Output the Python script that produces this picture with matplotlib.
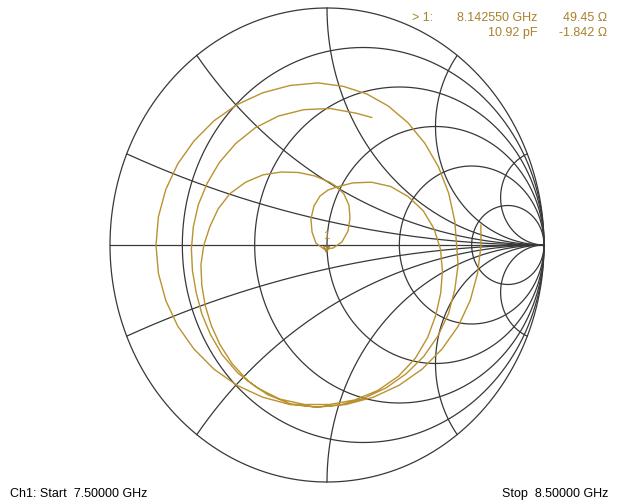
import numpy as np
import matplotlib.pyplot as plt

plt.rcParams['font.family'] = ['Liberation Sans', 'DejaVu Sans']

# Smith chart grid values (normalised)
r_circles = [0.2, 0.5, 1, 2, 5]
x_arcs = [0.2, 0.5, 1, 2, 5]

# S11 trace as reflection coefficient, 7.5 GHz -> 8.5 GHz, split by turn
turn1_re = [0.709, 0.710, 0.694, 0.660, 0.605, 0.530, 0.438, 0.332, 0.214, 0.088,
            -0.042, -0.171, -0.297, -0.415, -0.521, -0.613, -0.688, -0.743, -0.777, -0.788,
            -0.777, -0.743, -0.688, -0.613, -0.521, -0.415, -0.297, -0.171, -0.042,
            0.077, 0.184, 0.283, 0.374, 0.451, 0.514, 0.561, 0.589, 0.599]
turn1_im = [0.084, 0.000, -0.119, -0.234, -0.342, -0.439, -0.524, -0.592, -0.642, -0.673,
            -0.684, -0.673, -0.642, -0.592, -0.524, -0.439, -0.342, -0.234, -0.119, 0.000,
            0.119, 0.234, 0.342, 0.439, 0.524, 0.592, 0.642, 0.673, 0.684,
            0.669, 0.637, 0.586, 0.515, 0.429, 0.329, 0.218, 0.100, -0.021]

turn2_re = [0.604, 0.589, 0.560, 0.511, 0.446, 0.365, 0.272, 0.169, 0.058, -0.055,
            -0.168, -0.273, -0.364, -0.437, -0.493, -0.534, -0.562, -0.577, -0.581, -0.568,
            -0.540, -0.502, -0.447, -0.375, -0.295, -0.211, -0.131, -0.055, 0.012, 0.048]
turn2_im = [-0.084, -0.188, -0.289, -0.384, -0.470, -0.543, -0.603, -0.647, -0.675, -0.684,
            -0.670, -0.632, -0.574, -0.501, -0.421, -0.338, -0.253, -0.169, -0.084, -0.002,
            0.077, 0.152, 0.217, 0.265, 0.296, 0.308, 0.306, 0.291, 0.265, 0.244]

# resonance loop around the marker
loop_re = [0.078, 0.101, 0.106, 0.097, 0.069, 0.028, -0.014, -0.051, -0.069, -0.074,
           -0.060, -0.032, 0.005, 0.046]
loop_im = [0.215, 0.169, 0.114, 0.059, 0.013, -0.013, -0.017, 0.008, 0.055, 0.110,
           0.165, 0.207, 0.232, 0.245]

turn3_re = [0.119, 0.205, 0.293, 0.373, 0.443, 0.493, 0.523, 0.532, 0.524, 0.501,
            0.464, 0.407, 0.329, 0.234, 0.127, 0.012, -0.104, -0.218, -0.321, -0.411,
            -0.483, -0.537, -0.577, -0.603, -0.620, -0.625, -0.616, -0.593, -0.552, -0.496,
            -0.421, -0.330, -0.224, -0.107, 0.015, 0.135, 0.206]
turn3_im = [0.262, 0.265, 0.247, 0.205, 0.145, 0.069, -0.018, -0.110, -0.203, -0.297,
            -0.390, -0.478, -0.554, -0.614, -0.654, -0.673, -0.673, -0.650, -0.603, -0.540,
            -0.463, -0.378, -0.290, -0.200, -0.109, -0.017, 0.077, 0.170, 0.261, 0.348,
            0.428, 0.495, 0.544, 0.571, 0.576, 0.556, 0.538]

trace_re = turn1_re + turn2_re + loop_re + turn3_re
trace_im = turn1_im + turn2_im + loop_im + turn3_im

# marker 1
z0 = 50.0
mk_freq = '8.142550 GHz'
mk_cap = '10.92 pF'
mk_r = 49.45
mk_x = -1.842
start_label = 'Ch1: Start  7.50000 GHz'
stop_label = 'Stop  8.50000 GHz'

W, H = 621, 504
grid_c = '#383838'
trace_c = '#BA922F'
text_c = '#A8822A'

fig = plt.figure(figsize=(W / 100, H / 100), dpi=100)
ax = fig.add_axes([110 / W, 22 / H, 434 / W, 474 / H])
ax.set_xlim(-1, 1)
ax.set_ylim(-1, 1)
ax.axis('off')

t = np.linspace(0, 2 * np.pi, 1441)
ax.plot(np.cos(t), np.sin(t), color=grid_c, lw=0.9, clip_on=False)
ax.plot([-1, 1], [0, 0], color=grid_c, lw=0.9, clip_on=False)

for r in r_circles:
    c, rad = r / (1 + r), 1 / (1 + r)
    ax.plot(c + rad * np.cos(t), rad * np.sin(t), color=grid_c, lw=0.9, clip_on=False)

rr = np.r_[0, np.geomspace(1e-3, 1e4, 1500)]
for x in x_arcs:
    for s in (1, -1):
        g = (rr + 1j * s * x - 1) / (rr + 1j * s * x + 1)
        ax.plot(g.real, g.imag, color=grid_c, lw=0.9, clip_on=False)

ax.plot(trace_re, trace_im, color=trace_c, lw=1.0, solid_joinstyle='round')

zm = complex(mk_r, mk_x) / z0
gm = (zm - 1) / (zm + 1)
ax.plot(gm.real, gm.imag, marker='v', ms=5, color=text_c, mfc='none', mew=1.0)
ax.text(gm.real, gm.imag + 0.035, '1', color=text_c, fontsize=8, ha='center', va='bottom')


def px_text(x, y, s, **kw):
    fig.text(x / W, 1 - y / H, s, fontsize=9, va='center', **kw)


px_text(412, 18, '> 1:', color=text_c, ha='left')
px_text(537, 18, mk_freq, color=text_c, ha='right')
px_text(607, 18, f'{mk_r:.2f} \u03a9', color=text_c, ha='right')
px_text(537, 33, mk_cap, color=text_c, ha='right')
px_text(607, 33, f'{mk_x:.3f} \u03a9', color=text_c, ha='right')
px_text(10, 494, start_label, color='black', ha='left')
px_text(608, 494, stop_label, color='black', ha='right')

fig.savefig('out.png', dpi=100, facecolor='white')
